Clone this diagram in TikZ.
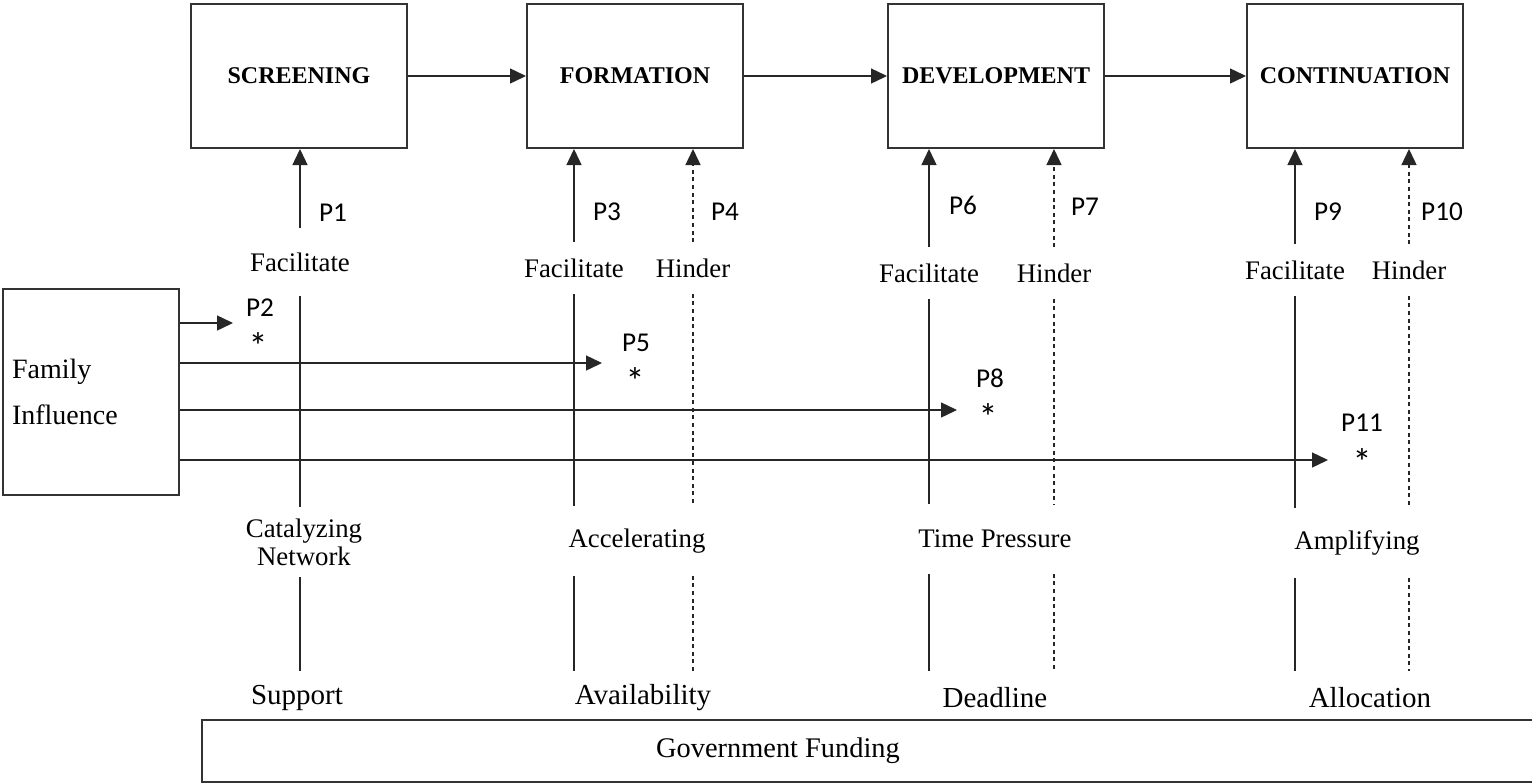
\documentclass[tikz,border=0pt]{standalone}
\usepackage{fontspec}
\setmainfont{Liberation Serif}
\newfontfamily\calib{Carlito}
\usetikzlibrary{arrows.meta,positioning}

\begin{document}
\begin{tikzpicture}[x=0.5pt,y=-0.5pt,>={Triangle[length=8pt,width=7.5pt]},thick,
    stage/.style={draw=black!80,line width=1pt,minimum width=108pt,minimum height=72pt,inner sep=0pt,font=\fontsize{12}{14}\selectfont\bfseries},
    upl/.style={inner sep=0pt,minimum height=25pt,font=\fontsize{13.4}{15}\selectfont},
    midl/.style={inner sep=0pt,minimum height=34pt,align=center,font=\fontsize{13.4}{14}\selectfont},
    lowl/.style={inner sep=0pt,minimum height=26pt,font=\fontsize{14.5}{16}\selectfont},
    plbl/.style={inner sep=0pt,font=\calib\fontsize{13.6}{15}\selectfont},
    star/.style={inner sep=0pt,font=\calib\fontsize{19}{20}\selectfont},
    link/.style={line width=0.7pt,black!85},
    hind/.style={link,dash pattern=on 2pt off 1.8pt}]

    \useasboundingbox (0,0) rectangle (1532,783);

    % stages
    \node[stage] (scr) at (299,76) {SCREENING};
    \node[stage] (frm) at (635,76) {FORMATION};
    \node[stage] (dev) at (996,76) {DEVELOPMENT};
    \node[stage] (con) at (1355,76) {CONTINUATION};

    \draw[link,->] (scr) -- (frm);
    \draw[link,->] (frm) -- (dev);
    \draw[link,->] (dev) -- (con);

    % facilitate / hinder
    \node[upl,minimum height=33pt] (f1) at (300,262) {Facilitate};
    \node[upl] (f2) at (574,268) {Facilitate};
    \node[upl] (h2) at (693,268) {Hinder};
    \node[upl] (f3) at (929,273) {Facilitate};
    \node[upl] (h3) at (1054,273) {Hinder};
    \node[upl] (f4) at (1295,270) {Facilitate};
    \node[upl] (h4) at (1409,270) {Hinder};

    % middle and lower labels
    \node[midl] (m1) at (304,542) {Catalyzing\\Network};
    \node[midl] (m2) at (637,541) {Accelerating};
    \node[midl] (m3) at (995,539) {Time Pressure};
    \node[midl] (m4) at (1357,543) {Amplifying};

    \node[lowl] (b1) at (297,698) {Support};
    \node[lowl] (b2) at (643,698) {Availability};
    \node[lowl] (b3) at (995,698) {Deadline};
    \node[lowl] (b4) at (1370,698) {Allocation};

    % propositions
    \node[plbl] (p1) at (333,213) {P1};
    \node[plbl] (p3) at (607,212) {P3};
    \node[plbl] (p4) at (725,212) {P4};
    \node[plbl] (p6) at (963,205) {P6};
    \node[plbl] (p7) at (1085,207) {P7};
    \node[plbl] (p9) at (1328,212) {P9};
    \node[plbl] (p10) at (1442,212) {P10};

    \node[plbl] (p2) at (260,308) {P2};
    \node[star] (s2) at (258,346) {*};
    \node[plbl] (p5) at (636,343) {P5};
    \node[star] (s5) at (635,381) {*};
    \node[plbl] (p8) at (990,378) {P8};
    \node[star] (s8) at (988,417) {*};
    \node[plbl] (p11) at (1362,423) {P11};
    \node[star] (s11) at (1362,462) {*};

    % family influence
    \node[draw=black!80,line width=1pt,minimum width=88pt,minimum height=103pt,text width=79pt,inner xsep=4.5pt,align=left,font=\fontsize{14}{23}\selectfont] (fam) at (91,392) {Family\\Influence};

    \coordinate (t2) at (233,323);
    \coordinate (t5) at (602,363);
    \coordinate (t8) at (957,410);
    \coordinate (t11) at (1328,460);

    \draw[link,->] (fam.east |- t2) -- (t2);
    \draw[link,->] (fam.east |- t5) -- (t5);
    \draw[link,->] (fam.east |- t8) -- (t8);
    \draw[link,->] (fam.east |- t11) -- (t11);

    % government funding
    \node[draw=black!80,line width=1pt,minimum width=671.5pt,minimum height=31pt,inner sep=0pt] (gov) at (873.5,751) {};
    \node[inner sep=0pt,font=\fontsize{14.2}{16}\selectfont] (govtxt) at (778,751) {Government Funding};

    % vertical connectors
    \draw[link,->] (f1) -- (f1 |- scr.south);
    \draw[link] (f1) -- (f1 |- m1.north);
    \draw[link] (f1 |- m1.south) -- (f1 |- b1.north);

    \draw[link,->] (f2) -- (f2 |- frm.south);
    \draw[link] (f2) -- (f2 |- m2.north);
    \draw[link] (f2 |- m2.south) -- (f2 |- b2.north);
    \draw[hind,->] (h2) -- (h2 |- frm.south);
    \draw[hind] (h2) -- (h2 |- m2.north);
    \draw[hind] (h2 |- m2.south) -- (h2 |- b2.north);

    \draw[link,->] (f3) -- (f3 |- dev.south);
    \draw[link] (f3) -- (f3 |- m3.north);
    \draw[link] (f3 |- m3.south) -- (f3 |- b3.north);
    \draw[hind,->] (h3) -- (h3 |- dev.south);
    \draw[hind] (h3) -- (h3 |- m3.north);
    \draw[hind] (h3 |- m3.south) -- (h3 |- b3.north);

    \draw[link,->] (f4) -- (f4 |- con.south);
    \draw[link] (f4) -- (f4 |- m4.north);
    \draw[link] (f4 |- m4.south) -- (f4 |- b4.north);
    \draw[hind,->] (h4) -- (h4 |- con.south);
    \draw[hind] (h4) -- (h4 |- m4.north);
    \draw[hind] (h4 |- m4.south) -- (h4 |- b4.north);

\end{tikzpicture}
\end{document}
